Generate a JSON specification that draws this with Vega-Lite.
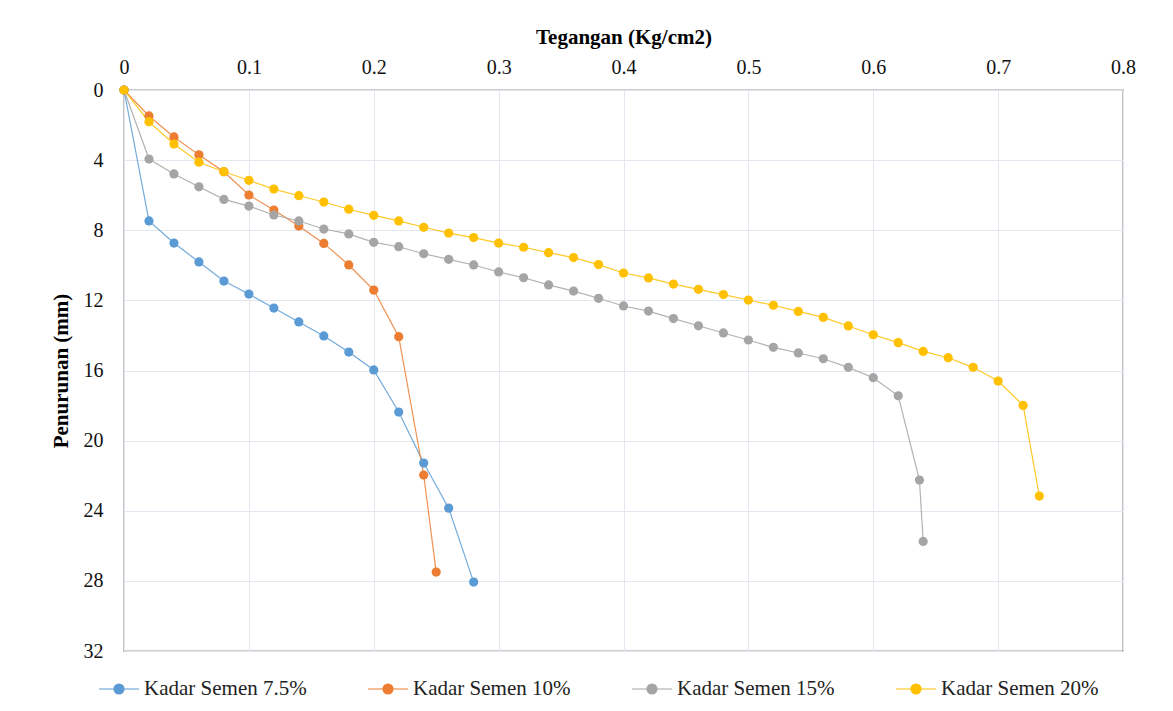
{
  "$schema": "https://vega.github.io/schema/vega-lite/v6.json",
  "width": 999,
  "height": 561,
  "autosize": {"type": "none"},
  "padding": {"left": 124, "top": 90, "right": 50, "bottom": 60},
  "background": "white",
  "config": {
    "font": "Liberation Serif",
    "view": {"stroke": "#3a3a3a", "strokeWidth": 1.2},
    "axis": {"labelFont": "Liberation Serif", "titleFont": "Liberation Serif", "labelColor": "#111", "titleColor": "#000", "gridColor": "#e2e7ef", "gridWidth": 1, "domain": false, "ticks": false},
    "legend": {"labelFont": "Liberation Serif"}
  },
  "data": {"values": [
    {"s": "Kadar Semen 7.5%", "x": 0, "y": 0},
    {"s": "Kadar Semen 7.5%", "x": 0.02, "y": 7.47},
    {"s": "Kadar Semen 7.5%", "x": 0.04, "y": 8.73},
    {"s": "Kadar Semen 7.5%", "x": 0.06, "y": 9.81},
    {"s": "Kadar Semen 7.5%", "x": 0.08, "y": 10.9},
    {"s": "Kadar Semen 7.5%", "x": 0.1, "y": 11.64},
    {"s": "Kadar Semen 7.5%", "x": 0.12, "y": 12.44},
    {"s": "Kadar Semen 7.5%", "x": 0.14, "y": 13.23},
    {"s": "Kadar Semen 7.5%", "x": 0.16, "y": 14.03},
    {"s": "Kadar Semen 7.5%", "x": 0.18, "y": 14.95},
    {"s": "Kadar Semen 7.5%", "x": 0.2, "y": 15.97},
    {"s": "Kadar Semen 7.5%", "x": 0.22, "y": 18.37},
    {"s": "Kadar Semen 7.5%", "x": 0.24, "y": 21.28},
    {"s": "Kadar Semen 7.5%", "x": 0.26, "y": 23.85},
    {"s": "Kadar Semen 7.5%", "x": 0.28, "y": 28.07},
    {"s": "Kadar Semen 10%", "x": 0, "y": 0},
    {"s": "Kadar Semen 10%", "x": 0.02, "y": 1.48},
    {"s": "Kadar Semen 10%", "x": 0.04, "y": 2.68},
    {"s": "Kadar Semen 10%", "x": 0.06, "y": 3.7},
    {"s": "Kadar Semen 10%", "x": 0.08, "y": 4.66},
    {"s": "Kadar Semen 10%", "x": 0.1, "y": 5.99},
    {"s": "Kadar Semen 10%", "x": 0.12, "y": 6.85},
    {"s": "Kadar Semen 10%", "x": 0.14, "y": 7.76},
    {"s": "Kadar Semen 10%", "x": 0.16, "y": 8.75},
    {"s": "Kadar Semen 10%", "x": 0.18, "y": 9.98},
    {"s": "Kadar Semen 10%", "x": 0.2, "y": 11.41},
    {"s": "Kadar Semen 10%", "x": 0.22, "y": 14.07},
    {"s": "Kadar Semen 10%", "x": 0.24, "y": 21.96},
    {"s": "Kadar Semen 10%", "x": 0.25, "y": 27.5},
    {"s": "Kadar Semen 15%", "x": 0, "y": 0},
    {"s": "Kadar Semen 15%", "x": 0.02, "y": 3.94},
    {"s": "Kadar Semen 15%", "x": 0.04, "y": 4.79},
    {"s": "Kadar Semen 15%", "x": 0.06, "y": 5.52},
    {"s": "Kadar Semen 15%", "x": 0.08, "y": 6.24},
    {"s": "Kadar Semen 15%", "x": 0.1, "y": 6.62},
    {"s": "Kadar Semen 15%", "x": 0.12, "y": 7.13},
    {"s": "Kadar Semen 15%", "x": 0.14, "y": 7.47},
    {"s": "Kadar Semen 15%", "x": 0.16, "y": 7.93},
    {"s": "Kadar Semen 15%", "x": 0.18, "y": 8.21},
    {"s": "Kadar Semen 15%", "x": 0.2, "y": 8.69},
    {"s": "Kadar Semen 15%", "x": 0.22, "y": 8.94},
    {"s": "Kadar Semen 15%", "x": 0.24, "y": 9.34},
    {"s": "Kadar Semen 15%", "x": 0.26, "y": 9.66},
    {"s": "Kadar Semen 15%", "x": 0.28, "y": 9.98},
    {"s": "Kadar Semen 15%", "x": 0.3, "y": 10.38},
    {"s": "Kadar Semen 15%", "x": 0.32, "y": 10.71},
    {"s": "Kadar Semen 15%", "x": 0.34, "y": 11.12},
    {"s": "Kadar Semen 15%", "x": 0.36, "y": 11.47},
    {"s": "Kadar Semen 15%", "x": 0.38, "y": 11.88},
    {"s": "Kadar Semen 15%", "x": 0.4, "y": 12.32},
    {"s": "Kadar Semen 15%", "x": 0.42, "y": 12.61},
    {"s": "Kadar Semen 15%", "x": 0.44, "y": 13.04},
    {"s": "Kadar Semen 15%", "x": 0.46, "y": 13.45},
    {"s": "Kadar Semen 15%", "x": 0.48, "y": 13.86},
    {"s": "Kadar Semen 15%", "x": 0.5, "y": 14.26},
    {"s": "Kadar Semen 15%", "x": 0.52, "y": 14.68},
    {"s": "Kadar Semen 15%", "x": 0.54, "y": 15.0},
    {"s": "Kadar Semen 15%", "x": 0.56, "y": 15.33},
    {"s": "Kadar Semen 15%", "x": 0.58, "y": 15.82},
    {"s": "Kadar Semen 15%", "x": 0.6, "y": 16.41},
    {"s": "Kadar Semen 15%", "x": 0.62, "y": 17.44},
    {"s": "Kadar Semen 15%", "x": 0.637, "y": 22.25},
    {"s": "Kadar Semen 15%", "x": 0.64, "y": 25.75},
    {"s": "Kadar Semen 20%", "x": 0, "y": 0},
    {"s": "Kadar Semen 20%", "x": 0.02, "y": 1.81},
    {"s": "Kadar Semen 20%", "x": 0.04, "y": 3.08},
    {"s": "Kadar Semen 20%", "x": 0.06, "y": 4.12},
    {"s": "Kadar Semen 20%", "x": 0.08, "y": 4.66},
    {"s": "Kadar Semen 20%", "x": 0.1, "y": 5.15},
    {"s": "Kadar Semen 20%", "x": 0.12, "y": 5.65},
    {"s": "Kadar Semen 20%", "x": 0.14, "y": 6.03},
    {"s": "Kadar Semen 20%", "x": 0.16, "y": 6.39},
    {"s": "Kadar Semen 20%", "x": 0.18, "y": 6.8},
    {"s": "Kadar Semen 20%", "x": 0.2, "y": 7.15},
    {"s": "Kadar Semen 20%", "x": 0.22, "y": 7.47},
    {"s": "Kadar Semen 20%", "x": 0.24, "y": 7.83},
    {"s": "Kadar Semen 20%", "x": 0.26, "y": 8.16},
    {"s": "Kadar Semen 20%", "x": 0.28, "y": 8.42},
    {"s": "Kadar Semen 20%", "x": 0.3, "y": 8.73},
    {"s": "Kadar Semen 20%", "x": 0.32, "y": 8.97},
    {"s": "Kadar Semen 20%", "x": 0.34, "y": 9.28},
    {"s": "Kadar Semen 20%", "x": 0.36, "y": 9.56},
    {"s": "Kadar Semen 20%", "x": 0.38, "y": 9.96},
    {"s": "Kadar Semen 20%", "x": 0.4, "y": 10.44},
    {"s": "Kadar Semen 20%", "x": 0.42, "y": 10.72},
    {"s": "Kadar Semen 20%", "x": 0.44, "y": 11.07},
    {"s": "Kadar Semen 20%", "x": 0.46, "y": 11.37},
    {"s": "Kadar Semen 20%", "x": 0.48, "y": 11.67},
    {"s": "Kadar Semen 20%", "x": 0.5, "y": 11.98},
    {"s": "Kadar Semen 20%", "x": 0.52, "y": 12.28},
    {"s": "Kadar Semen 20%", "x": 0.54, "y": 12.63},
    {"s": "Kadar Semen 20%", "x": 0.56, "y": 12.97},
    {"s": "Kadar Semen 20%", "x": 0.58, "y": 13.46},
    {"s": "Kadar Semen 20%", "x": 0.6, "y": 13.96},
    {"s": "Kadar Semen 20%", "x": 0.62, "y": 14.41},
    {"s": "Kadar Semen 20%", "x": 0.64, "y": 14.91},
    {"s": "Kadar Semen 20%", "x": 0.66, "y": 15.27},
    {"s": "Kadar Semen 20%", "x": 0.68, "y": 15.82},
    {"s": "Kadar Semen 20%", "x": 0.7, "y": 16.6},
    {"s": "Kadar Semen 20%", "x": 0.72, "y": 17.99},
    {"s": "Kadar Semen 20%", "x": 0.733, "y": 23.16}
  ]},
  "encoding": {
    "x": {"field": "x", "type": "quantitative",
      "scale": {"domain": [0, 0.8], "nice": false},
      "axis": {"orient": "top", "values": [0, 0.1, 0.2, 0.3, 0.4, 0.5, 0.6, 0.7, 0.8], "format": "~g", "labelFlush": false, "labelFontSize": 20, "labelPadding": 17, "labelBaseline": "alphabetic", "title": "Tegangan (Kg/cm2)", "titleFontSize": 21, "titleFontWeight": "bold", "titlePadding": 10}},
    "y": {"field": "y", "type": "quantitative",
      "scale": {"domain": [0, 32], "reverse": true, "nice": false},
      "axis": {"values": [0, 4, 8, 12, 16, 20, 24, 28, 32], "labelFontSize": 20, "labelPadding": 21, "title": "Penurunan (mm)", "titleFontSize": 21, "titleFontWeight": "bold", "titlePadding": 12}},
    "color": {"field": "s", "type": "nominal",
      "scale": {"domain": ["Kadar Semen 7.5%", "Kadar Semen 10%", "Kadar Semen 15%", "Kadar Semen 20%"], "range": ["#5B9BD5", "#ED7D31", "#A5A5A5", "#FFC000"]},
      "legend": {"orient": "none", "legendX": -16, "legendY": 588, "direction": "horizontal", "columns": 4, "gridAlign": "each", "title": null, "labelFont": "Liberation Serif", "labelFontSize": 21, "labelLimit": 400, "labelColor": "#222", "columnPadding": 58, "symbolType": "M-2,0H-0.5M0.5,0H2M-0.5,0A0.5,0.5 0 1,1 0.5,0A0.5,0.5 0 1,1 -0.5,0Z", "symbolSize": 400, "symbolStrokeWidth": 1.2, "symbolOpacity": 1, "labelOffset": 14}}
  },
  "layer": [
    {"mark": {"type": "line", "strokeWidth": 1.2, "opacity": 0.85}},
    {"mark": {"type": "point", "filled": true, "size": 85, "opacity": 1}}
  ]
}
